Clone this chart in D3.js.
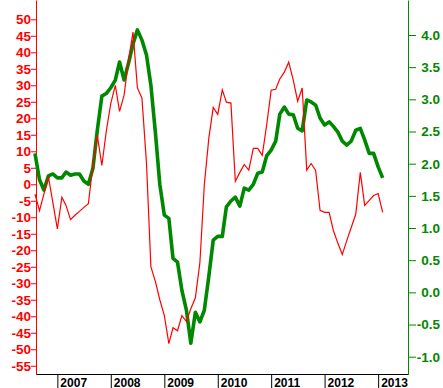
<!DOCTYPE html>
<html><head><meta charset="utf-8">
<script src="https://cdn.jsdelivr.net/npm/d3@7"></script>
<style>body{margin:0;background:#fff}svg{display:block;font-family:"Liberation Sans",Arial,sans-serif}</style>
</head><body><svg id="c" width="443" height="388"></svg>
<script>
// monthly series, first month Aug 2006
const startMonth = "2006-08";
const redValues = [
  -3, -8, -3, 2.2, -5.5,
  -13.5, -3.9, -6.4, -10.7, -9.4, -8.2, -7.0, -5.9, 6.0, 14.8, 5.7, 16, 24.5,
  30, 22.1, 27, 37.6, 46.1, 29.2, 26.1, 6.4, -25, -29.5, -35, -39.8,
  -48.3, -43.5, -44.4, -39.8, -41.6, -37.7, -34.4, -23.7, -0.3, 14, 23.3,
  21.2, 28.6, 24.9, 24.6, 0.9, 3.6, 6.0, 4.3, 10.9, 10.9, 8.8, 17.9,
  28.5, 28.8, 31.9, 34, 37, 31.6, 25.2, 29.2, 4.3, 6.3, 4.2, -7.9,
  -8.5, -8.5, -14, -17.9, -21.3, -17, -13.1, -9.1, 3.6, -6.4, -4.9, -3.4,
  -2.8, -8.5
];
const greenValues = [
  2.16, 1.75, 1.59, 1.81, 1.84,
  1.78, 1.78, 1.87, 1.82, 1.84, 1.84, 1.73, 1.68, 1.93, 2.52, 3.05, 3.09, 3.18,
  3.30, 3.58, 3.30, 3.56, 3.86, 4.08, 3.92, 3.69, 3.22, 2.48, 1.68, 1.20,
  1.15, 0.53, 0.47, 0.03, -0.28, -0.79, -0.31, -0.46, -0.28, 0.25, 0.81,
  0.87, 0.87, 1.33, 1.42, 1.48, 1.34, 1.62, 1.59, 1.68, 1.85, 1.87, 2.12,
  2.21, 2.35, 2.77, 2.88, 2.77, 2.76, 2.55, 2.51, 2.99, 2.96, 2.91, 2.71,
  2.60, 2.65, 2.58, 2.49, 2.35, 2.29, 2.35, 2.52, 2.55, 2.37, 2.16, 2.16,
  1.95, 1.78
];
const leftTickLabels = [50,45,40,35,30,25,20,15,10,5,0,-5,-10,-15,-20,-25,-30,-35,-40,-45,-50,-55];
const rightTickLabels = ["4.0","3.5","3.0","2.5","2.0","1.5","1.0","0.5","0.0","-0.5","-1.0"];
const yearLabels = ["2007","2008","2009","2010","2011","2012","2013"];

const RED = "#ff0000", GREEN = "#008800";
const svg = d3.select("#c");
const parseM = d3.timeParse("%Y-%m");
const m0 = parseM(startMonth);
const months = redValues.map((_, i) => d3.timeMonth.offset(m0, i));

const x = d3.scaleTime().domain([new Date(2006, 7, 8), new Date(2013, 6, 24)]).range([36, 408]);
const yL = d3.scaleLinear().domain([-57.5, 55.85]).range([374, 0]);
const yR = d3.scaleLinear().domain([-1.269, 4.544]).range([374, 0]);

// left axis
const gL = svg.append("g").attr("transform", "translate(36,0)");
gL.call(d3.axisLeft(yL).tickValues(d3.range(-57, 56)).tickSize(3).tickSizeOuter(0).tickFormat(""));
gL.call(d3.axisLeft(yL).tickValues(leftTickLabels).tickSize(5).tickSizeOuter(0).tickPadding(0).tickFormat(d => String(d)));
gL.selectAll("path,line").attr("stroke", RED);
gL.selectAll("text").attr("fill", RED).style("font-size", "13.5px").style("font-weight", "bold")
  .style("font-family", '"Liberation Sans",Arial,sans-serif');

// right axis
const gR = svg.append("g").attr("transform", "translate(408,0)");
gR.call(d3.axisRight(yR).tickValues(d3.range(-12, 46).map(v => v / 10)).tickSize(4).tickSizeOuter(0).tickFormat(""));
gR.call(d3.axisRight(yR).tickValues(rightTickLabels.map(Number)).tickSize(8).tickSizeOuter(0)
  .tickFormat((d, i) => rightTickLabels[i]));
gR.selectAll("path,line").attr("stroke", GREEN);
gR.selectAll("text").attr("fill", GREEN).attr("x", 32).attr("text-anchor", "end")
  .style("font-size", "13.5px").style("font-weight", "bold")
  .style("font-family", '"Liberation Sans",Arial,sans-serif');

// bottom axis
const yearDates = yearLabels.map(s => new Date(+s, 0, 1));
const gB = svg.append("g").attr("transform", "translate(0,374)");
gB.call(d3.axisBottom(x).tickValues(yearDates).tickSize(14).tickSizeOuter(0).tickFormat((d, i) => yearLabels[i]));
gB.selectAll("path,line").attr("stroke", "#000");
gB.selectAll("text").attr("fill", "#000").attr("x", 2.5).attr("y", 12.5).attr("dy", "0")
  .attr("text-anchor", "start").style("font-size", "12px").style("font-weight", "bold")
  .style("font-family", '"Liberation Sans",Arial,sans-serif');

// lines
const greenLine = d3.line().x((d, i) => x(months[i])).y(d => yR(d));
svg.append("path").datum(greenValues).attr("d", greenLine)
  .attr("fill", "none").attr("stroke", GREEN).attr("stroke-width", 3.6).attr("stroke-linejoin", "round");
const redLine = d3.line().x((d, i) => x(months[i])).y(d => yL(d));
svg.append("path").datum(redValues).attr("d", redLine)
  .attr("fill", "none").attr("stroke", RED).attr("stroke-width", 1.2);
</script></body></html>
